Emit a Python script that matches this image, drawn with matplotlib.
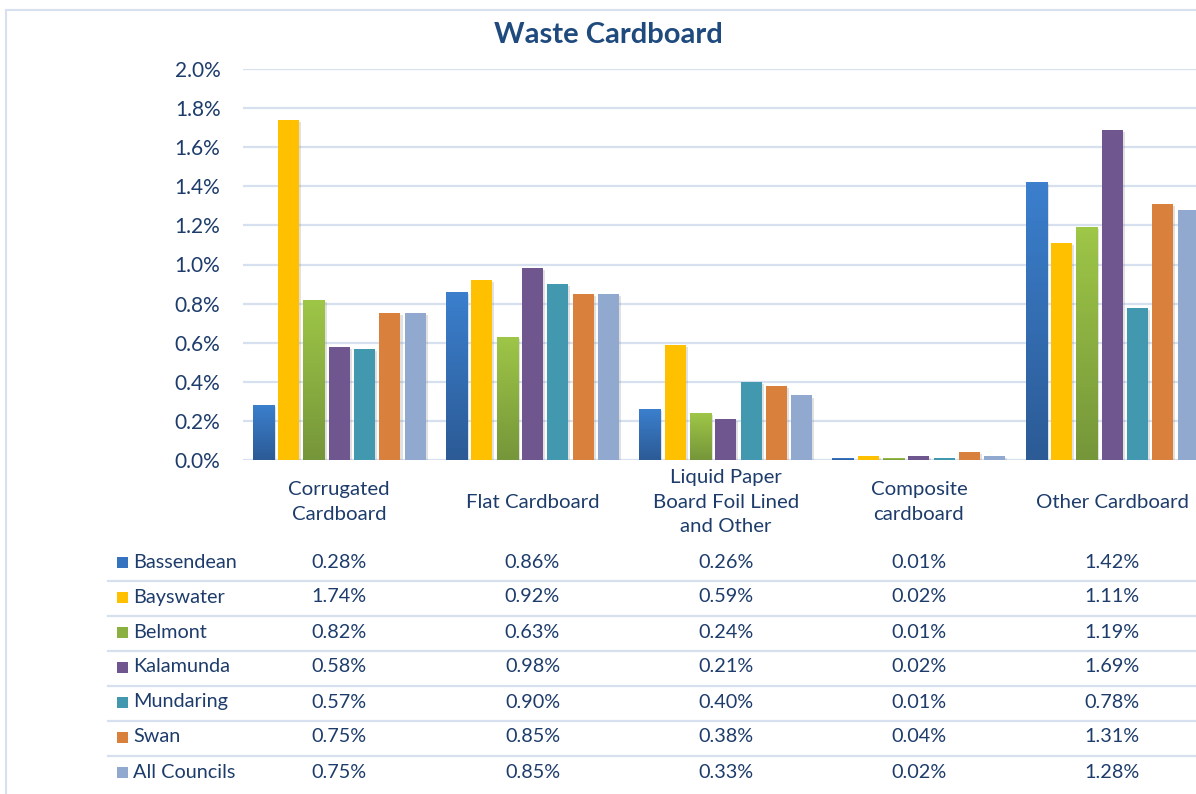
import numpy as np
import matplotlib
matplotlib.use("Agg")
import matplotlib.pyplot as plt
from matplotlib import transforms
from matplotlib.patches import Rectangle
from matplotlib.lines import Line2D
from matplotlib.colors import LinearSegmentedColormap
import matplotlib.patheffects as pe

plt.rcParams['font.family'] = ['Lato', 'DejaVu Sans']

categories = ["Corrugated\nCardboard", "Flat Cardboard", "Liquid Paper\nBoard Foil Lined\nand Other",
              "Composite\ncardboard", "Other Cardboard"]
councils = ["Bassendean", "Bayswater", "Belmont", "Kalamunda", "Mundaring", "Swan", "All Councils"]
bassendean = [0.28, 0.86, 0.26, 0.01, 1.42]
bayswater = [1.74, 0.92, 0.59, 0.02, 1.11]
belmont = [0.82, 0.63, 0.24, 0.01, 1.19]
kalamunda = [0.58, 0.98, 0.21, 0.02, 1.69]
mundaring = [0.57, 0.90, 0.40, 0.01, 0.78]
swan = [0.75, 0.85, 0.38, 0.04, 1.31]
all_councils = [0.75, 0.85, 0.33, 0.02, 1.28]
series = [bassendean, bayswater, belmont, kalamunda, mundaring, swan, all_councils]
yticks = [0.0, 0.2, 0.4, 0.6, 0.8, 1.0, 1.2, 1.4, 1.6, 1.8, 2.0]

colors = ["#3673BE", "#FFC000", "#8BB042", "#6F568E", "#4298AE", "#D9803C", "#92A9CF"]
gradients = {0: ("#3B7FCD", "#2C5B96"), 2: ("#9EC647", "#76963A")}

W, H = 1196, 794
fig = plt.figure(figsize=(W / 100, H / 100), dpi=100)
text_c = "#1D3C6B"
grid_c = "#D6E0EF"
fs = 14.3

def fx(px):
    return px / W

def fy(py):
    return 1 - py / H

ax = fig.add_axes([fx(242.7), fy(460), 966 / W, (460 - 69) / H])
x = np.arange(len(categories))
pitch = 0.1311
bw = 0.1087
n = len(series)
for i, vals in enumerate(series):
    offs = (i - (n - 1) / 2) * pitch
    bars = ax.bar(x + offs, vals, width=bw, color=colors[i], zorder=3, linewidth=0,
                  path_effects=[pe.SimplePatchShadow(offset=(1.5, -1.5), shadow_rgbFace='#888888', alpha=0.25), pe.Normal()])
    if i in gradients:
        cmap = LinearSegmentedColormap.from_list("g%d" % i, [gradients[i][1], gradients[i][0]])
        grad = np.linspace(0, 1, 64).reshape(-1, 1)
        for b in bars:
            im = ax.imshow(grad, cmap=cmap, origin='lower', aspect='auto', zorder=4,
                           extent=(b.get_x(), b.get_x() + b.get_width(), 0, b.get_height()))
            im.set_clip_path(b)

ax.set_xlim(-0.5, len(categories) - 0.5)
ax.set_ylim(0, 2.0)
ax.set_yticks(yticks)
ax.set_yticklabels(["%.1f%%" % v for v in yticks])
ax.tick_params(axis='y', length=0, pad=16, labelsize=15, labelcolor=text_c)
ax.set_xticks([])
for s in ax.spines.values():
    s.set_visible(False)
ax.grid(axis='y', color=grid_c, linewidth=1.6, zorder=0)
ax.set_axisbelow(True)

# title
fig.text(fx(608), fy(35), "Waste Cardboard", ha='center', va='center', fontsize=21,
         fontweight='bold', color="#1F4A7E")

# category labels
bt = transforms.blended_transform_factory(ax.transData, fig.transFigure)
for xi, c in zip(x, categories):
    ax.text(xi, fy(502), c, transform=bt, ha='center', va='center', fontsize=fs + 0.4,
            color=text_c, linespacing=1.5, multialignment='center')

# data table
for r, (name, vals) in enumerate(zip(councils, series)):
    yc = 562 + 35 * r
    fig.patches.append(Rectangle((fx(117), fy(yc + 6)), 11 / W, 11 / H, transform=fig.transFigure,
                                 facecolor=colors[r], edgecolor='none'))
    fig.text(fx(133), fy(yc), name, ha='left', va='center', fontsize=fs, color=text_c)
    for xi, v in zip(x, vals):
        ax.text(xi, fy(yc), "%.2f%%" % v, transform=bt, ha='center', va='center',
                fontsize=fs, color=text_c)
    if r < len(councils) - 1:
        ly = fy(581 + 35 * r)
        fig.lines.append(Line2D([fx(108), 1.0], [ly, ly], transform=fig.transFigure,
                                color=grid_c, linewidth=1.6))

# chart border
bc = "#D6E0EF"
fig.lines.append(Line2D([fx(5.5), fx(5.5)], [fy(10), 0], transform=fig.transFigure, color=bc, linewidth=1.5))
fig.lines.append(Line2D([fx(5.5), 1.0], [fy(10), fy(10)], transform=fig.transFigure, color=bc, linewidth=1.5))

fig.savefig("out.png", dpi=100)
